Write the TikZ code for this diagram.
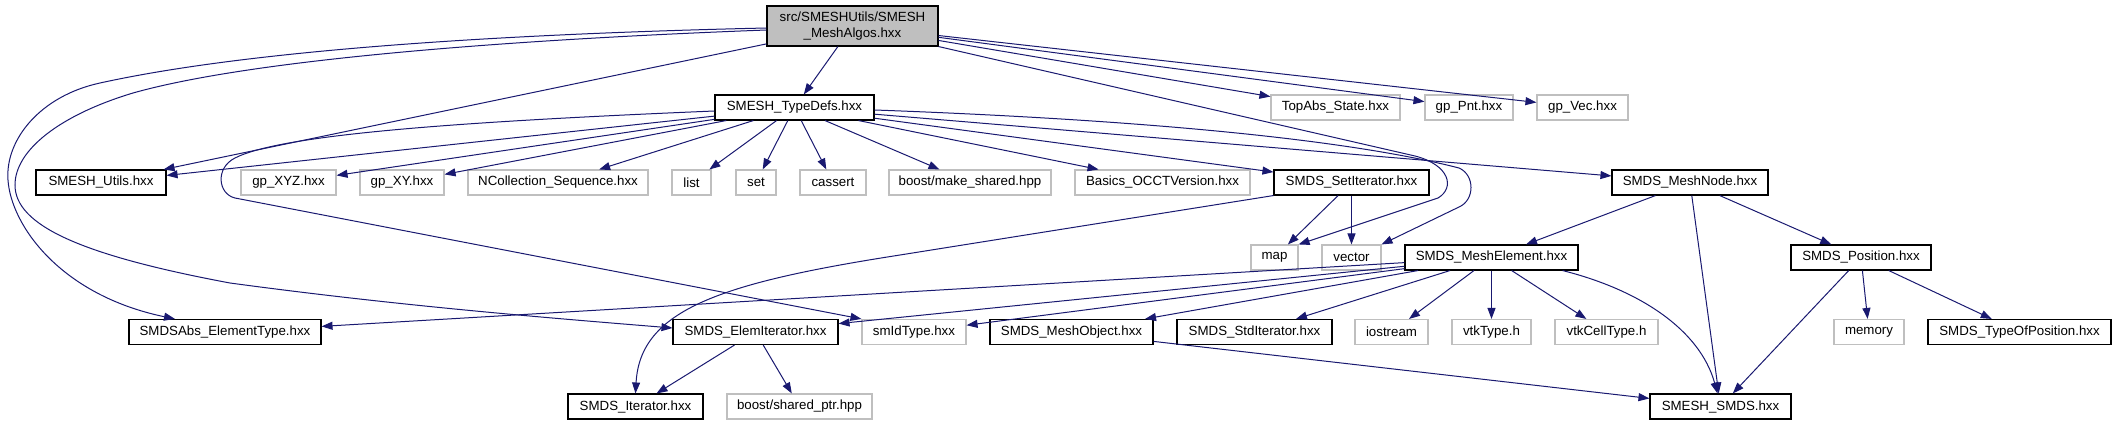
\documentclass[tikz,border=0pt]{standalone}
\usepackage{fontspec}
\setmainfont{Liberation Sans}
\usetikzlibrary{arrows.meta}
\definecolor{mblue}{RGB}{25,25,112}
\definecolor{lgrey}{RGB}{191,191,191}
\definecolor{topfill}{RGB}{191,191,191}
\newcommand\dfs{\fontsize{13.3}{15.5}\selectfont}
\tikzset{
  fbox/.style={draw=black, line width=1.1pt, fill=white, inner sep=0pt, minimum height=25pt, font=\dfs},
  gbox/.style={draw=lgrey, line width=1.1pt, fill=white, inner sep=0pt, minimum height=25pt, font=\dfs},
  edge/.style={draw=mblue, line width=1pt, -{Triangle[length=11pt,width=8pt]}, mblue}
}
\begin{document}
\begin{tikzpicture}[x=1pt,y=-1pt]
\useasboundingbox (0,0) rectangle (2116,425);
% row 0
\node[fbox, fill=topfill, minimum width=171pt, minimum height=40pt, align=center] (top) at (852.5,26) {src/SMESHUtils/SMESH\\\_MeshAlgos.hxx};
% row 1
\node[fbox, minimum width=159pt] (td) at (794.5,107.5) {SMESH\_TypeDefs.hxx};
\node[gbox, minimum width=129pt] (topabs) at (1335.5,107.5) {TopAbs\_State.hxx};
\node[gbox, minimum width=88pt] (gppnt) at (1469,107.5) {gp\_Pnt.hxx};
\node[gbox, minimum width=91pt] (gpvec) at (1582.5,107.5) {gp\_Vec.hxx};
% row 2
\node[fbox, minimum width=130pt] (utils) at (101,182.5) {SMESH\_Utils.hxx};
\node[gbox, minimum width=95pt] (gpxyz) at (288.5,182.5) {gp\_XYZ.hxx};
\node[gbox, minimum width=84pt] (gpxy) at (402,182.5) {gp\_XY.hxx};
\node[gbox, minimum width=180pt] (ncol) at (558,182.5) {NCollection\_Sequence.hxx};
\node[gbox, minimum width=39pt] (list) at (691.5,182.5) {list};
\node[gbox, minimum width=40pt] (set) at (756,182.5) {set};
\node[gbox, minimum width=66pt] (cassert) at (833,182.5) {cassert};
\node[gbox, minimum width=162pt] (mkshared) at (970,182.5) {boost/make\_shared.hpp};
\node[gbox, minimum width=175pt] (basics) at (1162.5,182.5) {Basics\_OCCTVersion.hxx};
\node[fbox, minimum width=155pt] (setit) at (1351.5,182.5) {SMDS\_SetIterator.hxx};
\node[fbox, minimum width=156pt] (mnode) at (1690,182.5) {SMDS\_MeshNode.hxx};
% row 3
\node[gbox, minimum width=47pt] (map) at (1274.5,257.5) {map};
\node[gbox, minimum width=59pt] (vector) at (1351.5,257.5) {vector};
\node[fbox, minimum width=173pt] (melem) at (1491.5,257.5) {SMDS\_MeshElement.hxx};
\node[fbox, minimum width=140pt] (pos) at (1861,257.5) {SMDS\_Position.hxx};
% row 4
\node[fbox, minimum width=192pt] (sabs) at (225,332) {SMDSAbs\_ElementType.hxx};
\node[fbox, minimum width=165pt] (elemit) at (755.5,332) {SMDS\_ElemIterator.hxx};
\node[gbox, minimum width=104pt] (smid) at (914,332) {smIdType.hxx};
\node[fbox, minimum width=163pt] (mobj) at (1071.5,332) {SMDS\_MeshObject.hxx};
\node[fbox, minimum width=155pt] (stdit) at (1254.5,332) {SMDS\_StdIterator.hxx};
\node[gbox, minimum width=73pt] (iostream) at (1391.5,332) {iostream};
\node[gbox, minimum width=79pt] (vtktype) at (1491.5,332) {vtkType.h};
\node[gbox, minimum width=103pt] (vtkcell) at (1606.5,332) {vtkCellType.h};
\node[gbox, minimum width=70pt] (memory) at (1869,332) {memory};
\node[fbox, minimum width=183pt] (typeofpos) at (2019.5,332) {SMDS\_TypeOfPosition.hxx};
% row 5
\node[fbox, minimum width=135pt] (sit) at (635.5,406.5) {SMDS\_Iterator.hxx};
\node[gbox, minimum width=145pt] (shptr) at (799.5,406.5) {boost/shared\_ptr.hpp};
\node[fbox, minimum width=141pt] (smds) at (1720.5,406.5) {SMESH\_SMDS.hxx};

% straight edges
\foreach \b in {td,utils,topabs,gppnt,gpvec} \draw[edge] (top) -- (\b);
\foreach \b in {utils,gpxyz,gpxy,ncol,list,set,cassert,mkshared,basics,setit,mnode} \draw[edge] (td) -- (\b);
\foreach \b in {map,vector} \draw[edge] (setit) -- (\b);
\foreach \b in {melem,smds,pos} \draw[edge] (mnode) -- (\b);
\foreach \b in {sabs,elemit,smid,mobj,stdit,iostream,vtktype,vtkcell} \draw[edge] (melem) -- (\b);
\foreach \b in {smds,memory,typeofpos} \draw[edge] (pos) -- (\b);
\foreach \b in {sit,shptr} \draw[edge] (elemit) -- (\b);
\draw[edge] (mobj) -- (smds);

% curved edges
\draw[edge] ([yshift=-2pt]top.west) .. controls (500,34) and (250,50) .. (100,83)
  .. controls (40,96) and (5,140) .. (8,180)
  .. controls (11,225) and (60,295) .. ([xshift=-50pt]sabs.north);
\draw[edge] ([yshift=-4pt]top.west) .. controls (500,40) and (250,60) .. (133,93)
  .. controls (60,115) and (15,150) .. (15,185)
  .. controls (15,225) and (80,255) .. (230,283)
  .. controls (400,306) and (550,318) .. ([yshift=4pt]elemit.west);
\draw[edge] (top.south east) -- (1415,156)
  .. controls (1450,165) and (1455,188) .. (1438,198) -- (map.north east);
\draw[edge] ([yshift=-2.5pt]td.east) .. controls (1150,120) and (1350,140) .. (1459,168)
  .. controls (1475,175) and (1475,200) .. (1459,207) -- (vector.north east);
\draw[edge] ([yshift=-3.5pt]td.west) .. controls (450,122) and (280,135) .. (235,158)
  .. controls (215,168) and (218,194) .. (235,198) -- (smid.north west);
\draw[edge] (setit.south west) -- (900,255)
  .. controls (720,283) and (640,310) .. (sit.north);
\draw[edge] ([xshift=-16pt]melem.south east) .. controls (1640,290) and (1700,330) .. ([xshift=-3pt]smds.north);
\end{tikzpicture}
\end{document}
